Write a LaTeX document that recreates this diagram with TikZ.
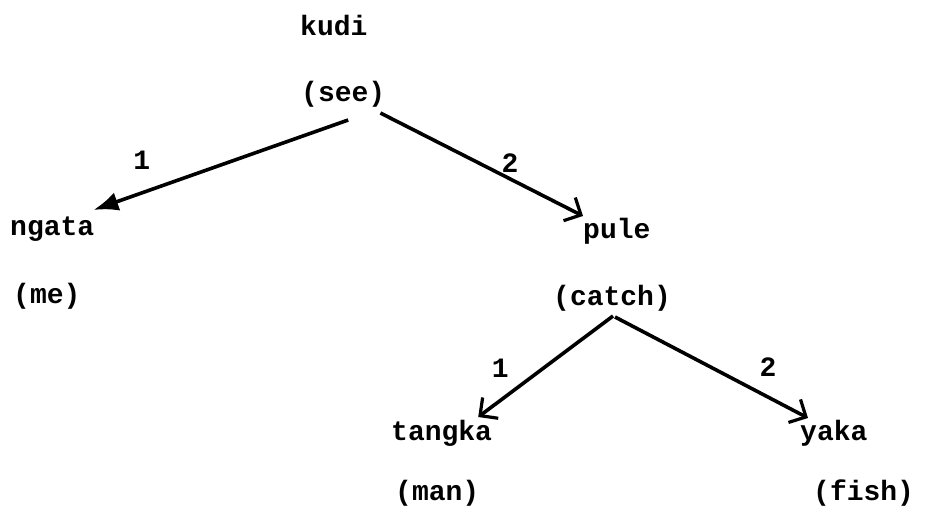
\documentclass[tikz,border=0pt]{standalone}
\usepackage{fontspec}
\setmonofont{Liberation Mono}
\usetikzlibrary{arrows.meta}
\tikzset{
  word/.style={anchor=base west,inner sep=0pt,font=\fontsize{28}{30}\selectfont\ttfamily\bfseries},
  lab/.style={inner sep=0pt,font=\fontsize{28}{30}\selectfont\ttfamily\bfseries},
  conn/.style={line width=3.6pt},
  solidtip/.style={-{Latex[length=25pt,width=19pt]}},
  opentip/.style={-{Straight Barb[length=13pt,width=26pt,line width=3.2pt]}}
}
\begin{document}
\begin{tikzpicture}
\useasboundingbox (0pt,0pt) rectangle (933pt,-514pt);
\node[word] (kudi) at (300pt,-35pt) {kudi};
\node[word] (see) at (301pt,-101pt) {(see)};
\node[word] (ngata) at (10pt,-235pt) {ngata};
\node[word] (me) at (13pt,-303pt) {(me)};
\node[word] (pule) at (583pt,-238pt) {pule};
\node[word] (catch) at (553pt,-305pt) {(catch)};
\node[word] (tangka) at (391pt,-440pt) {tangka};
\node[word] (man) at (395pt,-500pt) {(man)};
\node[word] (yaka) at (800pt,-440pt) {yaka};
\node[word] (fish) at (813pt,-500pt) {(fish)};
\draw[conn,solidtip] ([shift={(5pt,-19pt)}]see.base) -- node[lab,pos=0.81,yshift=33pt]{1} ([shift={(-1pt,25pt)}]ngata.base east);
\draw[conn,opentip] ([shift={(-5pt,-12pt)}]see.base east) -- node[lab,pos=0.64,yshift=16pt]{2} ([shift={(0pt,22pt)}]pule.base west);
\draw[conn,opentip] ([shift={(1pt,-11pt)}]catch.base) -- node[lab,pos=0.837,yshift=32pt]{1} ([shift={(-14pt,23pt)}]tangka.base east);
\draw[conn,opentip] ([shift={(3pt,-12pt)}]catch.base) -- node[lab,pos=0.793,yshift=30pt]{2} ([shift={(8pt,22pt)}]yaka.base west);
\end{tikzpicture}
\end{document}
